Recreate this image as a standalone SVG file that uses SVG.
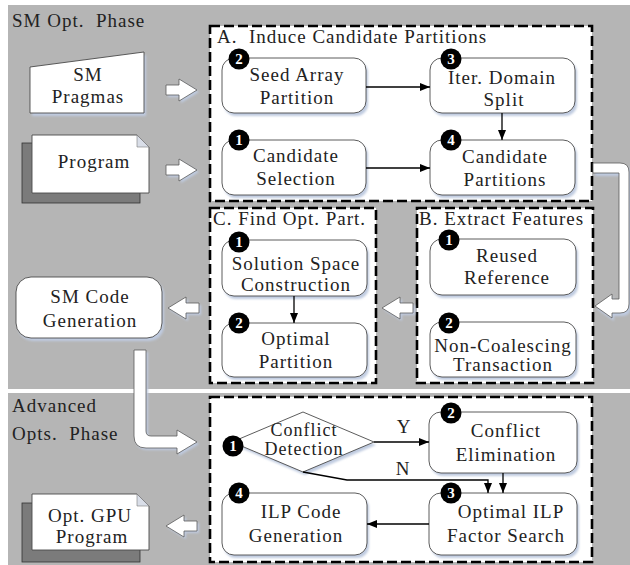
<svg xmlns="http://www.w3.org/2000/svg" width="630" height="565" viewBox="0 0 630 565">
  <defs>
    <style>
      .bg { fill: #b5b5b5; }
      .grp { fill: #ffffff; stroke: #000000; stroke-width: 2.6; stroke-dasharray: 10 4; }
      .node { fill: #ffffff; stroke: #4a4a4a; stroke-width: 0.9; }
      .shadow { fill: #bfcbe0; filter: url(#soft); }
      .t { font-family: "Liberation Serif", "Times New Roman", serif; font-size: 19px; letter-spacing: 1px; fill: #222222; text-anchor: middle; }
      .lbl { text-anchor: start; }
      .tight { font-size: 18px; }
      .badge { fill: #000000; }
      .num { font-family: "Liberation Serif", "Times New Roman", serif; font-size: 15px; font-weight: bold; fill: #ffffff; text-anchor: middle; }
      .flow { stroke: #000000; stroke-width: 1.3; fill: none; }
      .head { marker-end: url(#ah); }
      .big { fill: #ffffff; stroke: #5a5a5a; stroke-width: 0.8; }
      .docshadow { fill: #7b7b7b; stroke: #333333; stroke-width: 0.8; }
      .fold { fill: #d9dee8; stroke: #7a7a7a; stroke-width: 0.6; }
    </style>
    <filter id="soft" x="-20%" y="-20%" width="140%" height="140%">
      <feGaussianBlur stdDeviation="1.3"/>
    </filter>
    <marker id="ah" viewBox="0 0 10 8" refX="10" refY="4" markerWidth="10" markerHeight="8" markerUnits="userSpaceOnUse" orient="auto">
      <path d="M0,0 L10,4 L0,8 z" fill="#000000"/>
    </marker>
    <!-- block arrows, tip at origin -->
    <path id="blockR" d="M-31,-5 H-18 V-11 L0,0 L-18,11 V5 H-31 Z"/>
    <path id="blockL" d="M31,-5 H18 V-11 L0,0 L18,11 V5 H31 Z"/>
  </defs>

  <!-- phase panels -->
  <g id="panels">
    <rect class="bg" x="8" y="5" width="622" height="384"/>
    <rect class="bg" x="8" y="393" width="622" height="172"/>
    <text class="t lbl" x="12" y="27">SM Opt.&#160; Phase</text>
    <text class="t lbl" x="12" y="412">Advanced</text>
    <text class="t lbl" x="12" y="440">Opts.&#160; Phase</text>
  </g>

  <!-- stage frames -->
  <g id="stageA">
    <rect class="grp" x="210" y="26" width="382" height="175"/>
    <text class="t lbl" x="217" y="43">A.&#160; Induce Candidate Partitions</text>
  </g>
  <g id="stageC">
    <rect class="grp" x="210" y="208" width="166" height="175"/>
    <text class="t lbl" x="213" y="225">C. Find Opt. Part.</text>
  </g>
  <g id="stageB">
    <rect class="grp" x="417" y="208" width="176" height="175"/>
    <text class="t lbl" x="419" y="225">B. Extract Features</text>
  </g>
  <g id="stageD">
    <rect class="grp" x="210" y="397" width="382" height="165"/>
  </g>

  <!-- inputs -->
  <g id="smPragmas">
    <path class="shadow" d="M32,70 L146,55 V116 H32 Z"/>
    <path class="node" d="M30,67 L144,52 V113 H30 Z"/>
    <text class="t" x="88" y="81">SM</text>
    <text class="t" x="88" y="103">Pragmas</text>
  </g>
  <g id="program">
    <rect class="docshadow" x="22" y="143" width="118" height="60"/>
    <path class="node" d="M32,135 H137 L149,147 V193 H32 Z"/>
    <path class="fold" d="M137,135 V147 H149 Z"/>
    <text class="t" x="94" y="168">Program</text>
  </g>
  <g id="optGpuProgram">
    <rect class="docshadow" x="22" y="503" width="118" height="59"/>
    <path class="node" d="M32,494 H137 L149,506 V550 H32 Z"/>
    <path class="fold" d="M137,494 V506 H149 Z"/>
    <text class="t" x="90" y="522">Opt. GPU</text>
    <text class="t" x="92" y="543">Program</text>
  </g>
  <g id="smCodeGen">
    <rect class="shadow" x="18" y="280" width="146" height="61" rx="15"/>
    <rect class="node" x="16" y="277" width="146" height="61" rx="15"/>
    <text class="t" x="90" y="303">SM Code</text>
    <text class="t" x="90" y="327">Generation</text>
  </g>

  <!-- stage A steps -->
  <g id="a2">
    <rect class="shadow" x="224" y="61" width="144" height="55" rx="12"/>
    <rect class="node" x="222" y="58" width="144" height="55" rx="12"/>
    <text class="t" x="297" y="81">Seed Array</text>
    <text class="t" x="297" y="104">Partition</text>
    <circle class="badge" cx="239" cy="59" r="10.5"/>
    <text class="num" x="239" y="64">2</text>
  </g>
  <g id="a1">
    <rect class="shadow" x="224" y="143" width="144" height="55" rx="12"/>
    <rect class="node" x="222" y="140" width="144" height="55" rx="12"/>
    <text class="t" x="296" y="162">Candidate</text>
    <text class="t" x="296" y="185">Selection</text>
    <circle class="badge" cx="239" cy="140" r="10.5"/>
    <text class="num" x="239" y="145">1</text>
  </g>
  <g id="a3">
    <rect class="shadow" x="432" y="61" width="145" height="55" rx="12"/>
    <rect class="node" x="430" y="58" width="145" height="55" rx="12"/>
    <text class="t" x="502" y="84">Iter. Domain</text>
    <text class="t" x="504" y="106">Split</text>
    <circle class="badge" cx="451" cy="59" r="10.5"/>
    <text class="num" x="451" y="64">3</text>
  </g>
  <g id="a4">
    <rect class="shadow" x="432" y="143" width="145" height="55" rx="12"/>
    <rect class="node" x="430" y="140" width="145" height="55" rx="12"/>
    <text class="t" x="505" y="163">Candidate</text>
    <text class="t" x="505" y="186">Partitions</text>
    <circle class="badge" cx="451" cy="140" r="10.5"/>
    <text class="num" x="451" y="145">4</text>
  </g>

  <!-- stage B steps -->
  <g id="b1">
    <rect class="shadow" x="432" y="242" width="146" height="56" rx="12"/>
    <rect class="node" x="430" y="239" width="146" height="56" rx="12"/>
    <text class="t" x="507" y="262">Reused</text>
    <text class="t" x="507" y="284">Reference</text>
    <circle class="badge" cx="449" cy="240" r="10.5"/>
    <text class="num" x="449" y="245">1</text>
  </g>
  <g id="b2">
    <rect class="shadow" x="432" y="325" width="146" height="55" rx="12"/>
    <rect class="node" x="430" y="322" width="146" height="55" rx="12"/>
    <text class="t" x="503" y="352">Non-Coalescing</text>
    <text class="t" x="503" y="371">Transaction</text>
    <circle class="badge" cx="449" cy="323" r="10.5"/>
    <text class="num" x="449" y="328">2</text>
  </g>

  <!-- stage C steps -->
  <g id="c1">
    <rect class="shadow" x="224" y="243" width="145" height="56" rx="12"/>
    <rect class="node" x="222" y="240" width="145" height="56" rx="12"/>
    <text class="t" x="296" y="270">Solution Space</text>
    <text class="t" x="296" y="291">Construction</text>
    <circle class="badge" cx="239" cy="242" r="10.5"/>
    <text class="num" x="239" y="247">1</text>
  </g>
  <g id="c2">
    <rect class="shadow" x="224" y="326" width="145" height="54" rx="12"/>
    <rect class="node" x="222" y="323" width="145" height="54" rx="12"/>
    <text class="t" x="296" y="345">Optimal</text>
    <text class="t" x="296" y="368">Partition</text>
    <circle class="badge" cx="239" cy="323" r="10.5"/>
    <text class="num" x="239" y="328">2</text>
  </g>

  <!-- advanced phase steps -->
  <g id="d1">
    <path class="shadow" d="M305,415 L376,445 L305,475 L234,445 Z"/>
    <path class="node" d="M303,412 L374,442 L303,472 L232,442 Z" stroke="#000" stroke-width="1.2"/>
    <text class="t tight" x="304" y="436">Conflict</text>
    <text class="t tight" x="304" y="455">Detection</text>
    <circle class="badge" cx="233" cy="446" r="10.5"/>
    <text class="num" x="233" y="451">1</text>
  </g>
  <g id="d2">
    <rect class="shadow" x="431" y="415" width="148" height="61" rx="12"/>
    <rect class="node" x="429" y="412" width="148" height="61" rx="12"/>
    <text class="t" x="506" y="437">Conflict</text>
    <text class="t" x="506" y="461">Elimination</text>
    <circle class="badge" cx="451" cy="413" r="10.5"/>
    <text class="num" x="451" y="418">2</text>
  </g>
  <g id="d3">
    <rect class="shadow" x="431" y="496" width="148" height="62" rx="12"/>
    <rect class="node" x="429" y="493" width="148" height="62" rx="12"/>
    <text class="t" x="511" y="518">Optimal ILP</text>
    <text class="t" x="506" y="542">Factor Search</text>
    <circle class="badge" cx="451" cy="493" r="10.5"/>
    <text class="num" x="451" y="498">3</text>
  </g>
  <g id="d4">
    <rect class="shadow" x="224" y="496" width="145" height="62" rx="12"/>
    <rect class="node" x="222" y="493" width="145" height="62" rx="12"/>
    <text class="t" x="301" y="518">ILP Code</text>
    <text class="t" x="296" y="542">Generation</text>
    <circle class="badge" cx="239" cy="493" r="10.5"/>
    <text class="num" x="239" y="498">4</text>
  </g>

  <!-- connectors -->
  <g id="connectors">
    <line class="flow head" x1="366" y1="87" x2="430" y2="87"/>
    <line class="flow head" x1="366" y1="168" x2="430" y2="168"/>
    <line class="flow head" x1="502" y1="113" x2="502" y2="140"/>
    <line class="flow head" x1="294" y1="296" x2="294" y2="323"/>
    <line class="flow head" x1="374" y1="442" x2="429" y2="442"/>
    <polyline class="flow head" points="303,472 347,480 488,480 488,493"/>
    <line class="flow head" x1="503" y1="473" x2="503" y2="493"/>
    <line class="flow head" x1="429" y1="524" x2="367" y2="524"/>
    <text class="t" x="404" y="433">Y</text>
    <text class="t" x="403" y="475">N</text>

    <!-- block arrows between phases -->
    <use href="#blockR" class="shadow" x="199" y="92"/>
    <use href="#blockR" class="big" x="197" y="90"/>
    <use href="#blockR" class="shadow" x="199" y="172"/>
    <use href="#blockR" class="big" x="197" y="170"/>
    <use href="#blockL" class="shadow" x="170" y="310"/>
    <use href="#blockL" class="big" x="168" y="308"/>
    <use href="#blockL" class="shadow" x="384" y="310"/>
    <use href="#blockL" class="big" x="382" y="308"/>
    <use href="#blockL" class="shadow" x="168" y="528"/>
    <use href="#blockL" class="big" x="166" y="526"/>

    <path class="shadow" d="M595,166 H622 Q631,166 631,175 V306 Q631,316 622,316 H614 V321 L597,309 L614,297 V302 H621 V176 H595 Z"/>
    <path class="big" d="M593,163 H620 Q629,163 629,172 V304 Q629,313 620,313 H612 V318 L595,306 L612,294 V299 H619 V173 H593 Z"/>

    <path class="shadow" d="M136,352 H148 V432 Q148,438 153,438 H179 V432 L199,444 L179,456 V450 H148 Q136,450 136,438 Z"/>
    <path class="big" d="M134,350 H146 V431 Q146,436 151,436 H177 V430 L197,442 L177,454 V448 H146 Q134,448 134,436 Z"/>
  </g>
</svg>
